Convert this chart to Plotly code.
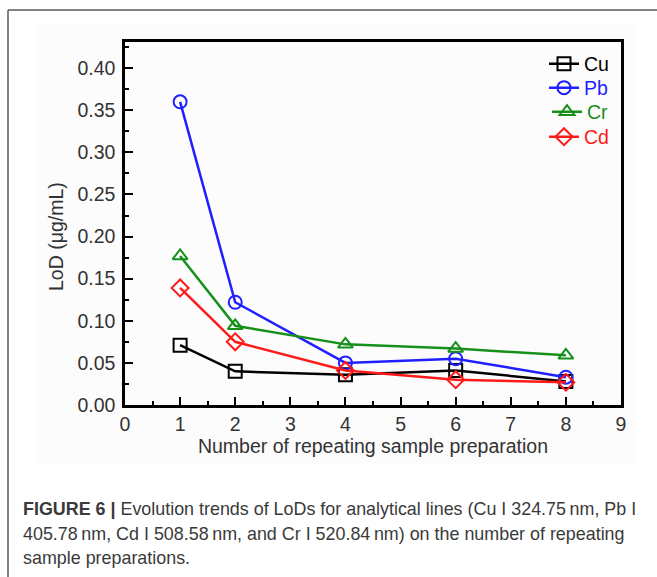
import plotly.graph_objects as go

# ---- data ----
repeats = [1, 2, 4, 6, 8]
cu = [0.071, 0.040, 0.036, 0.041, 0.028]
pb = [0.360, 0.122, 0.050, 0.055, 0.033]
cr = [0.177, 0.094, 0.072, 0.067, 0.059]
cd = [0.139, 0.075, 0.041, 0.030, 0.027]
series_names = ["Cu", "Pb", "Cr", "Cd"]
series_colors = ["#000000", "#1f1fff", "#16901a", "#ff1a1a"]
series_symbols = ["square-open", "circle-open", "triangle-up-open", "diamond-open"]
caption_lines = [
    "<b>FIGURE 6 |</b> Evolution trends of LoDs for analytical lines (Cu I 324.75\u2009nm, Pb I",
    "405.78\u2009nm, Cd I 508.58\u2009nm, and Cr I 520.84\u2009nm) on the number of repeating",
    "sample preparations.",
]

W, H = 657, 577
L, R, T, B = 125, 621, 42, 405

def px(x):
    return (x - L) / (R - L)

def py(y):
    return (B - y) / (B - T)

FONT = "Liberation Sans, Arial, sans-serif"
TXT = "#333333"

legend_ids = ["legend", "legend2", "legend3", "legend4"]
legend_centers = [64, 88, 112, 137]

fig = go.Figure()
for name, vals, col, sym, lg in zip(series_names, [cu, pb, cr, cd], series_colors,
                                    series_symbols, legend_ids):
    fig.add_trace(go.Scatter(
        x=repeats, y=vals, mode="lines+markers",
        name=f'<span style="color:{col}">{name}</span>',
        line=dict(color=col, width=2.5),
        marker=dict(symbol=sym, size=13, color=col, line=dict(color=col, width=2)),
        legend=lg,
    ))

axis_common = dict(
    showline=True, linecolor="black", linewidth=2.5, mirror=True,
    showgrid=False, zeroline=False,
    ticks="inside", ticklen=8, tickwidth=2, tickcolor="black",
    tickfont=dict(family=FONT, size=19.5, color=TXT),
)
fig.update_xaxes(range=[0, 9], dtick=1, tick0=0,
                 minor=dict(ticks="inside", ticklen=4, tickwidth=2, dtick=0.5, tickcolor="black"),
                 title=dict(text="Number of repeating sample preparation",
                            font=dict(family=FONT, size=19.5, color=TXT), standoff=2),
                 **axis_common)
fig.update_yaxes(range=[0, 0.431], dtick=0.05, tick0=0, tickformat=".2f",
                 minor=dict(ticks="inside", ticklen=4, tickwidth=2, dtick=0.025, tickcolor="black"),
                 ticklabelstandoff=3,
                 **axis_common)

shapes = [
    # faint image background
    dict(type="rect", xref="paper", yref="paper", x0=px(35), x1=px(637), y0=py(465), y1=py(25),
         fillcolor="#fcfcfc", line=dict(width=0), layer="below"),
    # outer frame
    dict(type="line", xref="paper", yref="paper", x0=px(8), x1=px(700), y0=py(10), y1=py(10),
         line=dict(color="#5a5a5a", width=1.5)),
    dict(type="line", xref="paper", yref="paper", x0=px(8), x1=px(8), y0=py(10), y1=py(620),
         line=dict(color="#5a5a5a", width=1.5)),
]

annotations = [
    dict(text="LoD (\u03bcg/mL)", xref="paper", yref="paper", x=px(56), y=py(237),
         textangle=-90, showarrow=False, font=dict(family=FONT, size=19.5, color=TXT),
         xanchor="center", yanchor="middle"),
]
for i, line in enumerate(caption_lines):
    annotations.append(dict(text=line, xref="paper", yref="paper", x=px(21), y=py(509 + 24.5 * i),
                            xanchor="left", yanchor="middle", showarrow=False, align="left",
                            font=dict(family=FONT, size=17.9, color="#3a3a3a")))

legend_layout = {}
for lg, cy in zip(legend_ids, legend_centers):
    legend_layout[lg] = dict(x=px(614), y=py(cy), xanchor="right", yanchor="middle",
                             bgcolor="rgba(0,0,0,0)", font=dict(family=FONT, size=19.5),
                             itemwidth=30)

fig.update_layout(
    width=W, height=H,
    margin=dict(l=L, r=W - R, t=T, b=H - B),
    paper_bgcolor="white", plot_bgcolor="rgba(0,0,0,0)",
    showlegend=True,
    shapes=shapes, annotations=annotations,
    **legend_layout,
)

fig.write_html("out.html")
